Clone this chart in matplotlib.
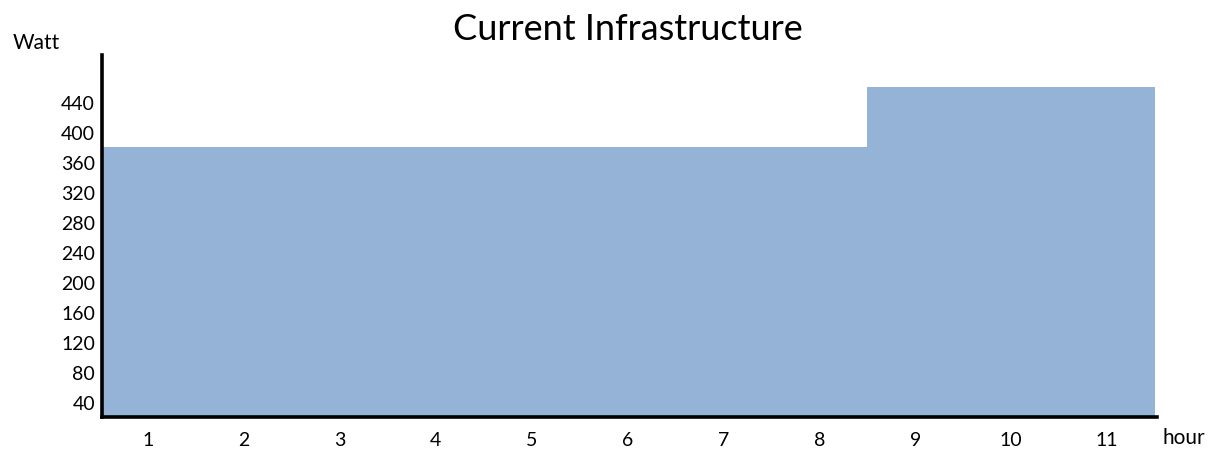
import matplotlib.pyplot as plt

# Потребляемая мощность по часам
hours = [1, 2, 3, 4, 5, 6, 7, 8, 9, 10, 11]
watts = [380, 380, 380, 380, 380, 380, 380, 380, 460, 460, 460]
y_ticks = [40, 80, 120, 160, 200, 240, 280, 320, 360, 400, 440]

plt.rcParams['font.family'] = ['Lato', 'DejaVu Sans']

fig = plt.figure(figsize=(12.21, 4.52), dpi=100)
ax = fig.add_axes([0.0835, 0.0752, 0.864, 0.801])

# Ступенчатая диаграмма: столбцы вплотную друг к другу
ax.bar(hours, watts, width=1.0, color='#95B3D7', bottom=0)

ax.set_xlim(0.52, 11.52)
ax.set_ylim(20, 502)
ax.set_xticks(hours)
ax.set_yticks(y_ticks)
ax.tick_params(length=0, labelsize=14)
ax.tick_params(axis='x', pad=10)
ax.tick_params(axis='y', pad=5)

for side in ['top', 'right']:
    ax.spines[side].set_visible(False)
for side in ['left', 'bottom']:
    ax.spines[side].set_linewidth(2.6)
    ax.spines[side].set_color('black')

fig.text(0.514, 0.935, 'Current Infrastructure', ha='center', va='center', fontsize=26)
fig.text(0.01, 0.905, 'Watt', ha='left', va='center', fontsize=15)
fig.text(0.952, 0.031, 'hour', ha='left', va='center', fontsize=15)

fig.savefig('out.png', dpi=100)
